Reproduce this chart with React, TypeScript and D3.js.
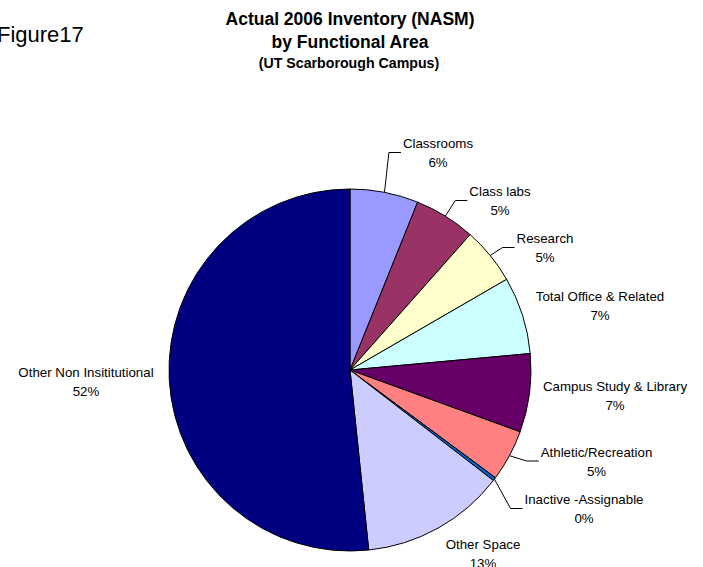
import React from "react";
import * as d3 from "d3";

const categories = [
  "Classrooms",
  "Class labs",
  "Research",
  "Total Office & Related",
  "Campus Study & Library",
  "Athletic/Recreation",
  "Inactive -Assignable",
  "Other Space",
  "Other Non Insititutional",
];
const values = [6.1, 5.45, 5.1, 6.9, 7.0, 4.6, 0.3, 12.9, 51.65];
const colors = [
  "#9999FF",
  "#993366",
  "#FFFFCC",
  "#CCFFFF",
  "#660066",
  "#FF8080",
  "#0066CC",
  "#CCCCFF",
  "#000080",
];
const titleLines = ["Actual 2006 Inventory (NASM)", "by Functional Area"];
const subtitle = "(UT Scarborough Campus)";
const figureLabel = "Figure17";

// layout: label centre x and first-line baseline y, and whether a leader line is drawn
const labelLayout = [
  { x: 438, y: 148, leader: true },
  { x: 500, y: 196, leader: true },
  { x: 545, y: 243, leader: true },
  { x: 600, y: 301, leader: false },
  { x: 615, y: 390.5, leader: false },
  { x: 596.5, y: 456.5, leader: true },
  { x: 584, y: 504, leader: true },
  { x: 483, y: 549, leader: false },
  { x: 86, y: 376.5, leader: false },
];

const W = 703;
const H = 567;
const CX = 350;
const CY = 370;
const R = 181;
const FONT = "'Liberation Sans', Arial, sans-serif";
const LABEL_SIZE = 13.3;

function measure(text: string, size: number, weight = "normal") {
  const c = document.createElement("canvas").getContext("2d");
  if (!c) return text.length * size * 0.5;
  c.font = `${weight} ${size}px 'Liberation Sans', Arial, sans-serif`;
  return c.measureText(text).width;
}

export default function App() {
  const total = d3.sum(values);
  const pie = d3
    .pie<number>()
    .sort(null)
    .startAngle(0)
    .endAngle(2 * Math.PI)
    .value((d) => d);
  const arcs = pie(values);
  const arcGen = d3.arc<d3.PieArcDatum<number>>().innerRadius(0).outerRadius(R);

  return (
    <div style={{ position: "absolute", left: 0, top: 0 }}>
      <svg width={W} height={H} style={{ display: "block", background: "#fff" }}>
        <text x={-3} y={42} fontFamily={FONT} fontSize={22} fill="#000">
          {figureLabel}
        </text>
        {titleLines.map((t, i) => (
          <text
            key={t}
            x={350}
            y={25 + i * 22.5}
            textAnchor="middle"
            fontFamily={FONT}
            fontSize={17.5}
            fontWeight="bold"
            fill="#000"
          >
            {t}
          </text>
        ))}
        <text
          x={349}
          y={68}
          textAnchor="middle"
          fontFamily={FONT}
          fontSize={14.2}
          fontWeight="bold"
          fill="#000"
        >
          {subtitle}
        </text>
        <g transform={`translate(${CX},${CY})`}>
          {arcs.map((a, i) => (
            <path
              key={categories[i]}
              d={arcGen(a) || ""}
              fill={colors[i]}
              stroke="#000"
              strokeWidth={1}
              strokeLinejoin="round"
            />
          ))}
        </g>
        {arcs.map((a, i) => {
          const lay = labelLayout[i];
          const pct = Math.round((values[i] / total) * 100) + "%";
          const mid = (a.startAngle + a.endAngle) / 2;
          const sx = CX + R * Math.sin(mid);
          const sy = CY - R * Math.cos(mid);
          const w = measure(categories[i], LABEL_SIZE);
          const left = lay.x - w / 2;
          const ly = lay.y + 4.5;
          return (
            <g key={"l" + i}>
              {lay.leader && (
                <polyline
                  points={`${sx},${sy} ${left - 14},${ly} ${left - 2},${ly}`}
                  fill="none"
                  stroke="#000"
                  strokeWidth={1}
                />
              )}
              <text
                x={lay.x}
                y={lay.y}
                textAnchor="middle"
                fontFamily={FONT}
                fontSize={LABEL_SIZE}
                fill="#000"
              >
                {categories[i]}
              </text>
              <text
                x={lay.x}
                y={lay.y + 19}
                textAnchor="middle"
                fontFamily={FONT}
                fontSize={LABEL_SIZE}
                fill="#000"
              >
                {pct}
              </text>
            </g>
          );
        })}
      </svg>
    </div>
  );
}
